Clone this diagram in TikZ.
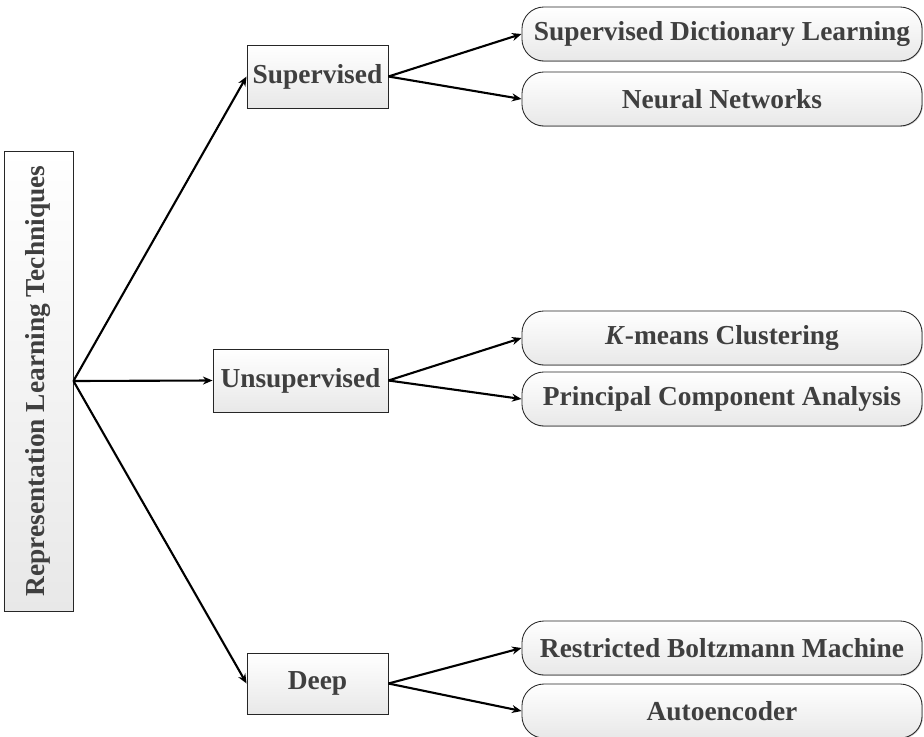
\documentclass[tikz,border=0pt]{standalone}
\usepackage{fontspec}
\setmainfont{Liberation Serif}
\usepackage{tikz}
\usetikzlibrary{positioning,arrows.meta,shadows}
\definecolor{txtgray}{HTML}{3F3F3F}
\definecolor{boxline}{HTML}{262626}
\definecolor{boxlow}{HTML}{E8E8E8}

\begin{document}
\begin{tikzpicture}[x=0.025cm, y=-0.025cm,
    font=\fontsize{19.5}{23}\selectfont\bfseries, text=txtgray,
    box/.style={draw=boxline, line width=0.6pt, top color=white, bottom color=boxlow,
      inner sep=2pt, drop shadow={shadow xshift=0.6pt, shadow yshift=-0.6pt, fill=black!35, opacity=0.6}},
    catbox/.style={box, minimum width=3.525cm, minimum height=1.575cm},
    leafbox/.style={box, rounded corners=0.55cm, minimum width=10cm, minimum height=1.35cm},
    link/.style={line width=1.5pt, -{Stealth[length=2.4mm, width=2mm]}}]
    \useasboundingbox (0,0) rectangle (924,736);
    % root, turned on its side
    \node[box, rotate=90, minimum width=11.5cm, minimum height=1.725cm] (root) at (38.5,381)
      {Representation Learning Techniques};
    % the three families
    \node[catbox] (sup) at (317.5,76.5) {Supervised};
    \node[catbox, minimum width=4.375cm] (unsup) at (300.5,380.5) {Unsupervised};
    \node[catbox, minimum height=1.525cm] (deep) at (317.5,683.5) {Deep};
    \foreach \cat in {sup,unsup,deep}
      \draw[link] (root.south) -- (\cat.west);
    % methods: name/y/family/text
    \foreach \nm/\y/\cat/\lab in {sdl/34/sup/Supervised Dictionary Learning,
        nn/99/sup/Neural Networks,
        km/338/unsup/\textit{K}-means Clustering,
        pca/399/unsup/Principal Component Analysis,
        rbm/648/deep/Restricted Boltzmann Machine,
        ae/711/deep/Autoencoder}
    {
      \node[leafbox] (\nm) at (722,\y) {\lab};
      \draw[link] (\cat.east) -- (\nm.west);
    }
\end{tikzpicture}
\end{document}
